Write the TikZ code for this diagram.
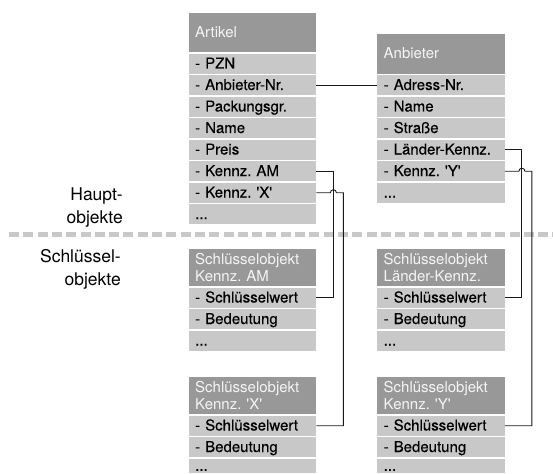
\documentclass[tikz,border=0pt]{standalone}
\usepackage{fontspec}
\setmainfont{TeX Gyre Heros}
\newfontfamily\heavyfam[FakeBold=0.4]{TeX Gyre Heros}
\definecolor{hdrgray}{RGB}{152,152,152}
\definecolor{rowgray}{RGB}{200,200,200}
\definecolor{hdrtext}{RGB}{245,245,245}
\definecolor{dashgray}{RGB}{200,200,200}
\definecolor{linecol}{RGB}{25,25,25}
\newcommand{\rwfont}{\heavyfam\fontsize{15pt}{16.7pt}\selectfont\frenchspacing}
\newcommand{\hdfont}{\fontsize{15pt}{16.7pt}\selectfont\frenchspacing}
\newcommand{\lblfont}{\fontsize{17.5pt}{23pt}\selectfont}
\tikzset{
  box/.style={rectangle, anchor=north west, minimum width=127.5pt, inner xsep=6.5pt, inner ysep=0pt, text width=114.5pt, align=left},
  hdr/.style={box, fill=hdrgray, text=hdrtext, font=\hdfont, text height=12pt, text depth=2.4pt},
  hdrtwo/.style={box, fill=hdrgray, text=hdrtext, font=\hdfont},
  fieldrow/.style={box, fill=rowgray, text=black, font=\rwfont, minimum height=20pt, text height=12pt, text depth=2.4pt},
  conn/.style={draw=linecol, line width=0.9pt},
  sepline/.style={draw=dashgray, line width=5pt, dash pattern=on 10pt off 4.3pt},
  lbl/.style={anchor=north east, inner sep=0pt, align=right, font=\lblfont, text=black}
}
\begin{document}
\begin{tikzpicture}[x=1pt,y=-1pt]
\useasboundingbox (0,0) rectangle (553,473);
\clip (0,0) rectangle (553,473);
% Artikel
\node[hdr, minimum height=39pt] (art) at (188.5,13) {Artikel};
\node[fieldrow] (a1) at (188.5,53.5) {- PZN};
\node[fieldrow] (a2) at (188.5,75) {- Anbieter-Nr.};
\node[fieldrow] (a3) at (188.5,96.5) {- Packungsgr.};
\node[fieldrow] (a4) at (188.5,118) {- Name};
\node[fieldrow] (a5) at (188.5,139.5) {- Preis};
\node[fieldrow] (a6) at (188.5,161) {- Kennz. AM};
\node[fieldrow] (a7) at (188.5,182.5) {- Kennz. \textquotesingle X\textquotesingle};
\node[fieldrow] (a8) at (188.5,204) {...};
% Anbieter
\node[hdr, minimum height=39.5pt] (anb) at (377,34) {Anbieter};
\node[fieldrow] (b1) at (377,75) {- Adress-Nr.};
\node[fieldrow] (b2) at (377,96.5) {- Name};
\node[fieldrow] (b3) at (377,118) {- Straße};
\node[fieldrow] (b4) at (377,139.5) {- Länder-Kennz.};
\node[fieldrow] (b5) at (377,161) {- Kennz. \textquotesingle Y\textquotesingle};
\node[fieldrow] (b6) at (377,182.5) {...};
% Key object AM
\node[hdrtwo, minimum height=37.5pt] (kam) at (188.5,248.5) {Schlüsselobjekt\\Kennz. AM};
\node[fieldrow] (kam1) at (188.5,287.5) {- Schlüsselwert};
\node[fieldrow] (kam2) at (188.5,309) {- Bedeutung};
\node[fieldrow] (kam3) at (188.5,330.5) {...};
% Key object Laender
\node[hdrtwo, minimum height=37.5pt] (kl) at (377,248.5) {Schlüsselobjekt\\Länder-Kennz.};
\node[fieldrow] (kl1) at (377,287.5) {- Schlüsselwert};
\node[fieldrow] (kl2) at (377,309) {- Bedeutung};
\node[fieldrow] (kl3) at (377,330.5) {...};
% Key object X
\node[hdrtwo, minimum height=37pt] (kx) at (188.5,377) {Schlüsselobjekt\\Kennz. \textquotesingle X\textquotesingle};
\node[fieldrow] (kx1) at (188.5,415.5) {- Schlüsselwert};
\node[fieldrow] (kx2) at (188.5,437) {- Bedeutung};
\node[fieldrow, minimum height=14.5pt] (kx3) at (188.5,458.5) {...};
% Key object Y
\node[hdrtwo, minimum height=37pt] (ky) at (377,377) {Schlüsselobjekt\\Kennz. \textquotesingle Y\textquotesingle};
\node[fieldrow] (ky1) at (377,415.5) {- Schlüsselwert};
\node[fieldrow] (ky2) at (377,437) {- Bedeutung};
\node[fieldrow, minimum height=14.5pt] (ky3) at (377,458.5) {...};
% labels
\node[lbl] (haupt) at (123,187.4) {Haupt-\\objekte};
\node[lbl] (schl) at (121,249.4) {Schlüssel-\\objekte};
% separator
\draw[sepline] (9,234) -- (553,234);
% connectors
\draw[conn] (a2.east) -- (b1.west);
\draw[conn] (a6.east) -- ++(17,0) |- (kam1.east);
\draw[conn] (a7.east) -- ++(14,0) arc[start angle=180, end angle=0, radius=3pt] -- ++(7,0) |- (kx1.east);
\draw[conn] (b4.east) -- ++(17,0) |- (kl1.east);
\draw[conn] (b5.east) -- ++(14,0) arc[start angle=180, end angle=0, radius=3pt] -- ++(7,0) |- (ky1.east);
\end{tikzpicture}
\end{document}
